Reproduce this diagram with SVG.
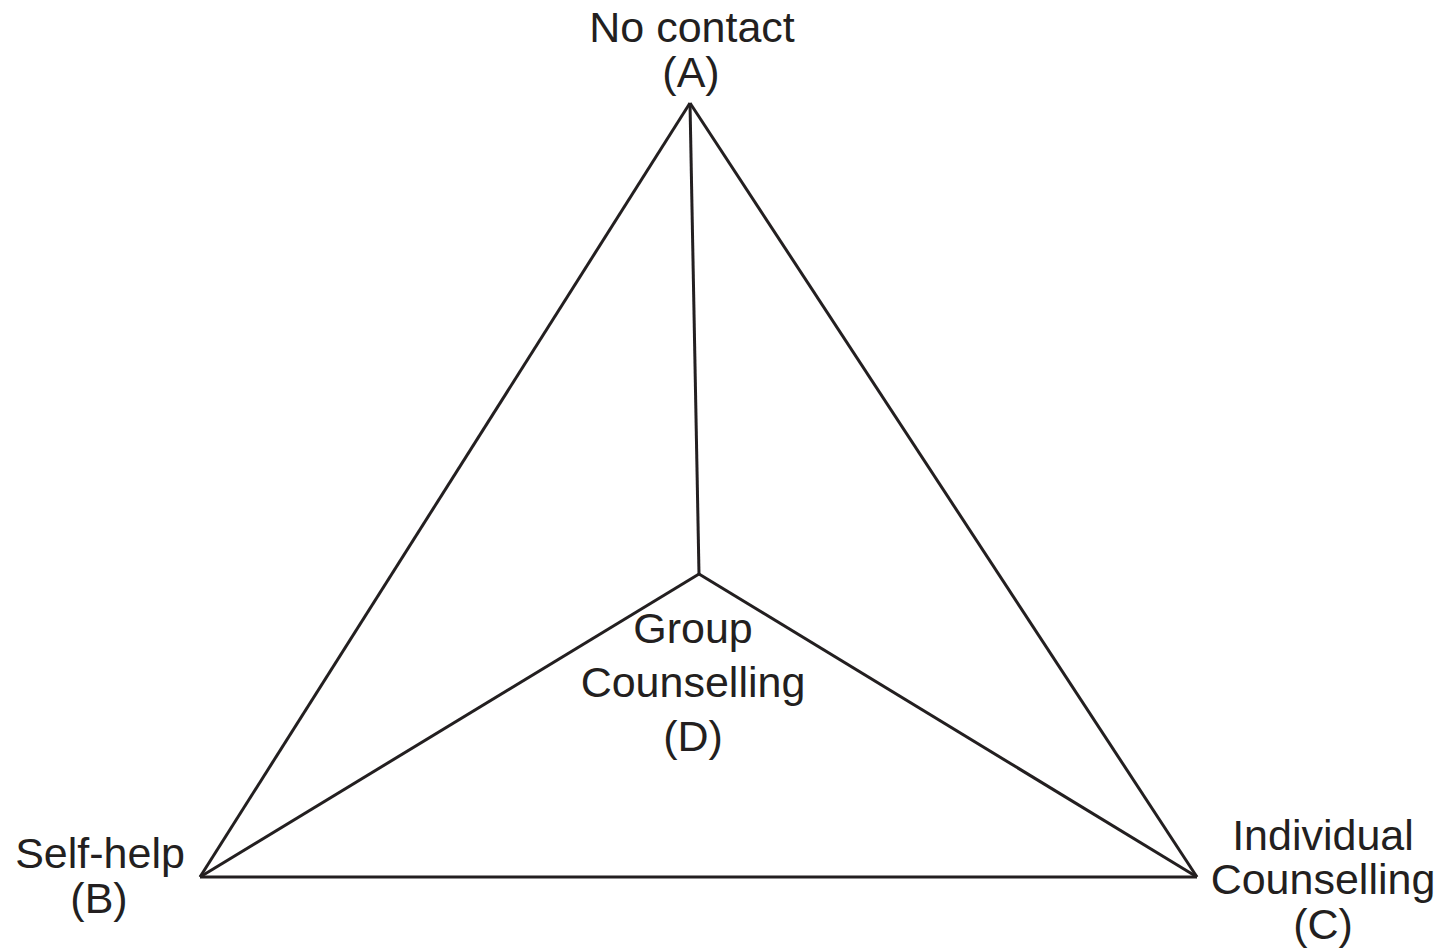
<svg xmlns="http://www.w3.org/2000/svg" width="1440" height="950" viewBox="0 0 1440 950">
<style>
.t{font-family:"Liberation Sans",Arial,sans-serif;font-size:43px;fill:#231f20;text-anchor:middle}
.e{stroke:#231f20;stroke-width:3;fill:none;stroke-linejoin:miter}
</style>
<rect width="1440" height="950" fill="#fff"/>
<g id="connectors">
<line class="e" x1="690" y1="103" x2="200" y2="877"/>
<line class="e" x1="690" y1="103" x2="1197" y2="877"/>
<line class="e" x1="200" y1="877" x2="1197" y2="877"/>
<line class="e" x1="690" y1="103" x2="699" y2="574"/>
<line class="e" x1="699" y1="574" x2="200" y2="877"/>
<line class="e" x1="699" y1="574" x2="1197" y2="877"/>
</g>
<g id="nodeA"><text class="t" x="692" y="42">No contact</text><text class="t" x="691" y="87">(A)</text></g>
<g id="nodeB"><text class="t" x="100" y="868">Self-help</text><text class="t" x="99" y="913">(B)</text></g>
<g id="nodeC"><text class="t" x="1323" y="850">Individual</text><text class="t" x="1323" y="894">Counselling</text><text class="t" x="1323" y="939">(C)</text></g>
<g id="nodeD"><text class="t" x="693" y="643">Group</text><text class="t" x="693" y="697">Counselling</text><text class="t" x="693" y="751">(D)</text></g>
</svg>
